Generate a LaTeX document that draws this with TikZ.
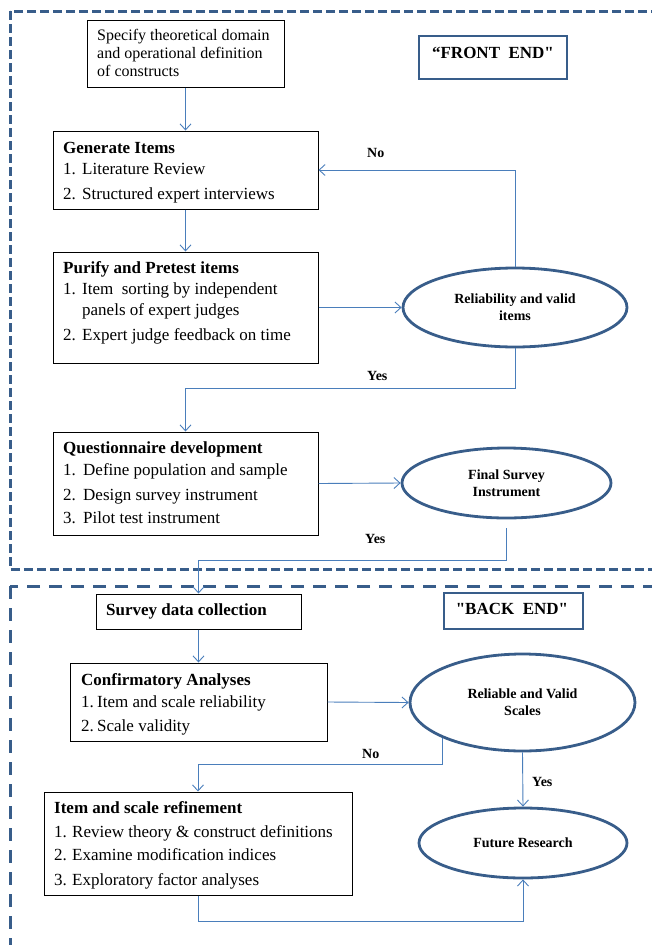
\documentclass[tikz,border=0pt]{standalone}
\usepackage{fontspec}
\setmainfont{Liberation Serif}
\usetikzlibrary{shapes.geometric,arrows.meta}
\definecolor{frameblue}{HTML}{385D8A}
\definecolor{linkblue}{HTML}{4A7EBB}
\tikzset{
  stepbox/.style={draw=black, line width=1pt, inner sep=0pt},
  oval/.style={ellipse, draw=frameblue, line width=2.8pt, inner sep=0pt, align=center,
               font=\fontsize{14}{17}\selectfont\bfseries},
  tagbox/.style={draw=frameblue, line width=2.2pt, inner sep=0pt},
  tagtext/.style={font=\fontsize{17}{17}\selectfont\bfseries, inner sep=0pt, anchor=base},
  body/.style={inner sep=0pt, anchor=base west, font=\fontsize{17}{17}\selectfont},
  conn/.style={draw=linkblue, line width=0.9pt,
               -{Straight Barb[length=6pt,width=11pt,line width=0.9pt]}},
  flag/.style={font=\fontsize{14}{14}\selectfont\bfseries, inner sep=0pt, anchor=base west},
  frontframe/.style={draw=frameblue, line width=3pt, dash pattern=on 9pt off 4pt},
  backframe/.style={draw=frameblue, line width=3pt, dash pattern=on 13pt off 9pt},
}
% numbered entry with a hanging label column
\newcommand{\itm}[2][19pt]{\makebox[#1][l]{#2}}
% plain straight double quote, set as a glyph so no ligature mapping applies
\newcommand{\sq}{\XeTeXglyph\XeTeXcharglyph 34\relax}
\begin{document}
\begin{tikzpicture}[x=1pt,y=-1pt]
\useasboundingbox (0,0) rectangle (652,945);
\clip (0,0) rectangle (652,945);

% dashed frames of the two phases
\draw[frontframe] (10,11) rectangle (700,569);
\draw[backframe] (10,586) rectangle (700,1000);

% ---------- front end ----------
\node[tagbox, minimum width=148pt, minimum height=43pt] (fe) at (493,57.5) {};
\node[tagtext] (fetext) at (493,58) {“FRONT\ \ END\sq};

\node[stepbox, minimum width=197pt, minimum height=67pt] (spec) at (185.5,53.5) {};
\node[body, font=\fontsize{16}{18}\selectfont] (spectext) at (97,40)
  {\begin{tabular}[t]{@{}l@{}}Specify theoretical domain\\and operational definition\\of constructs\end{tabular}};

\node[stepbox, minimum width=265pt, minimum height=78pt] (gen) at (185.5,170) {};
\node[body] (gentext) at (63,153)
  {\begin{tabular}[t]{@{}l@{}}\textbf{Generate Items}\\[4pt]
   \itm{1.}Literature Review\\[8pt]
   \itm{2.}Structured expert interviews\end{tabular}};

\node[stepbox, minimum width=265pt, minimum height=111pt] (pur) at (185.5,307.5) {};
\node[body] (purtext) at (63,273)
  {\begin{tabular}[t]{@{}l@{}}\textbf{Purify and Pretest items}\\[4pt]
   \itm{1.}Item\ \ sorting by independent\\[4pt]
   \itm{}panels of expert judges\\[8pt]
   \itm{2.}Expert judge feedback on time\end{tabular}};

\node[stepbox, minimum width=265pt, minimum height=103pt] (qst) at (185.5,483.5) {};
\node[body] (qsttext) at (63,453)
  {\begin{tabular}[t]{@{}l@{}}\textbf{Questionnaire development}\\[5pt]
   \itm[20pt]{1.}Define population and sample\\[8pt]
   \itm[20pt]{2.}Design survey instrument\\[6pt]
   \itm[20pt]{3.}Pilot test instrument\end{tabular}};

\node[oval, minimum width=224pt, minimum height=79pt] (rel) at (515,307.5)
  {Reliability and valid\\items};
\node[oval, minimum width=209pt, minimum height=70pt] (fin) at (506.5,483)
  {Final Survey\\Instrument};

% ---------- back end ----------
\node[tagbox, minimum width=139pt, minimum height=36pt] (be) at (513.5,611) {};
\node[tagtext] (betext) at (512,614) {\sq BACK\ \ END\sq};

\node[stepbox, minimum width=205pt, minimum height=35pt] (sdc) at (198.5,611.5) {};
\node[body] (sdctext) at (106,615) {\textbf{Survey data collection}};

\node[stepbox, minimum width=257pt, minimum height=78pt] (cfa) at (198.5,702) {};
\node[body] (cfatext) at (81,685)
  {\begin{tabular}[t]{@{}l@{}}\textbf{Confirmatory Analyses}\\[5pt]
   \itm[16pt]{1.}Item and scale reliability\\[7pt]
   \itm[16pt]{2.}Scale validity\end{tabular}};

\node[stepbox, minimum width=308pt, minimum height=103pt] (irf) at (198,843.5) {};
\node[body] (irftext) at (54,813)
  {\begin{tabular}[t]{@{}l@{}}\textbf{Item and scale refinement}\\[7pt]
   \itm[18pt]{1.}Review theory \& construct definitions\\[6pt]
   \itm[18pt]{2.}Examine modification indices\\[8pt]
   \itm[18pt]{3.}Exploratory factor analyses\end{tabular}};

\node[oval, minimum width=225pt, minimum height=97pt] (rvs) at (522.5,702.5)
  {Reliable and Valid\\Scales};
\node[oval, minimum width=208pt, minimum height=70pt] (fut) at (523,843)
  {Future Research};

% bend points of the routed connectors
\coordinate (yesbend) at (185.5,388);
\coordinate (surveybend) at (198.5,560);
\coordinate (nobend) at (198,764);
\coordinate (futbend) at (523,921);

% ---------- connectors ----------
\draw[conn] (spec.south) -- (gen.north);
\draw[conn] (gen.south) -- (pur.north);
\draw[conn] (pur.east) -- (rel.west);
\draw[conn] (rel.north) |- (gen.east);
\draw[conn] (rel.south) |- (yesbend) -- (qst.north);
\draw[conn] (qst.east) -- (fin.west);
\draw[conn] ([yshift=-9pt]fin.south) |- (surveybend) -- (sdc.north);
\draw[conn] (sdc.south) -- (cfa.north);
\draw[conn] (cfa.east) -- (rvs.west);
\draw[conn] (rvs.south west) |- (nobend) -- (irf.north);
\draw[conn] (rvs.south) -- (fut.north);
\draw[conn] (irf.south) |- (futbend) -- (fut.south);

% branch labels
\node[flag] (lno1) at (367,157) {No};
\node[flag] (lyes1) at (367,380) {Yes};
\node[flag] (lyes2) at (365,543) {Yes};
\node[flag] (lno2) at (362,758) {No};
\node[flag] (lyes3) at (532,786) {Yes};
\end{tikzpicture}
\end{document}
